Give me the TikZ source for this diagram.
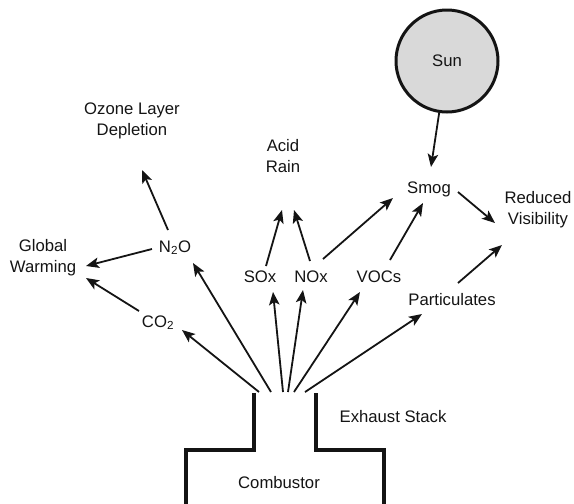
\documentclass[tikz,border=0pt]{standalone}
\usepackage{fontspec}
\setmainfont{Liberation Sans}
\usetikzlibrary{arrows.meta,calc}
\begin{document}
\begin{tikzpicture}[x=1pt,y=-1pt,
  lbl/.style={anchor=base, inner sep=0pt, text=black!92,
    font=\fontsize{16.7}{21}\selectfont, align=center},
  arr/.style={-{Stealth[length=13pt,width=10.5pt,inset=3pt]},
    line width=1.8pt, draw=black!92},
  wall/.style={line width=3.2pt, draw=black!92, line join=miter}]
\useasboundingbox (0,0) rectangle (574,504);

% exhaust stack and combustor outline
\draw[wall] (186,510) -- (186,450) -- (254,450) -- (254,393);
\draw[wall] (316,393) -- (316,450) -- (384,450) -- (384,510);

% emission points at the top of the stack
\coordinate (o1) at (259,392);
\coordinate (o2) at (271,392);
\coordinate (o3) at (283,392);
\coordinate (o4) at (288,392);
\coordinate (o5) at (294,392);
\coordinate (o6) at (305,392);

% labels
\node[lbl] (comb)  at (279,488) {Combustor};
\node[lbl] (stack) at (393,422) {Exhaust Stack};
\node[lbl] (co2)   at (158,327) {CO\textsubscript{2}};
\node[lbl] (n2o)   at (175,252) {N\textsubscript{2}O};
\node[lbl] (sox)   at (260,282) {SOx};
\node[lbl] (nox)   at (311,282) {NOx};
\node[lbl] (vocs)  at (379,282) {VOCs};
\node[lbl] (part)  at (452,305) {Particulates};
\node[lbl] (glob)  at (43,272)  {Global\\Warming};
\node[lbl] (ozone) at (132,135) {Ozone Layer\\Depletion};
\node[lbl] (acid)  at (283,172) {Acid\\Rain};
\node[lbl] (smog)  at (429,193) {Smog};
\node[lbl] (vis)   at (538,224) {Reduced\\Visibility};
\node[circle, minimum size=102pt, inner sep=0pt, fill=black!15,
      draw=black!92, line width=3pt, text=black!92,
      font=\fontsize{16.7}{21}\selectfont] (sun) at (447,61) {Sun};

% stack emissions
\draw[arr] (o1) -- ($(co2.base)+(24,3)$);
\draw[arr] (o2) -- ($(n2o.base)+(18,11)$);
\draw[arr] (o3) -- ($(sox.base)+(13,10)$);
\draw[arr] (o4) -- ($(nox.base)+(-8,8)$);
\draw[arr] (o5) -- ($(vocs.base)+(-19,10)$);
\draw[arr] (o6) -- ($(part.base)+(-30,9)$);

% effects
\draw[arr] ($(co2.base)+(-19,-16)$) -- ($(glob.base)+(43,6)$);
\draw[arr] ($(n2o.base)+(-23,-3)$) -- ($(glob.base)+(43,-6)$);
\draw[arr] ($(n2o.base)+(-7,-22)$) -- ($(ozone.base)+(10,35)$);
\draw[arr] ($(sox.base)+(6,-16)$) -- ($(acid.base)+(-1,38)$);
\draw[arr] ($(nox.base)+(-1,-21)$) -- ($(acid.base)+(11,38)$);
\draw[arr] ($(nox.base)+(12,-23)$) -- ($(smog.base)+(-36,5)$);
\draw[arr] ($(vocs.base)+(11,-22)$) -- ($(smog.base)+(-6,10)$);
\draw[arr] (sun) -- ($(smog.base)+(2,-26)$);
\draw[arr] ($(smog.base)+(29,-1)$) -- ($(vis.base)+(-43,-1)$);
\draw[arr] ($(part.base)+(6,-22)$) -- ($(vis.base)+(-36,21)$);
\end{tikzpicture}
\end{document}
